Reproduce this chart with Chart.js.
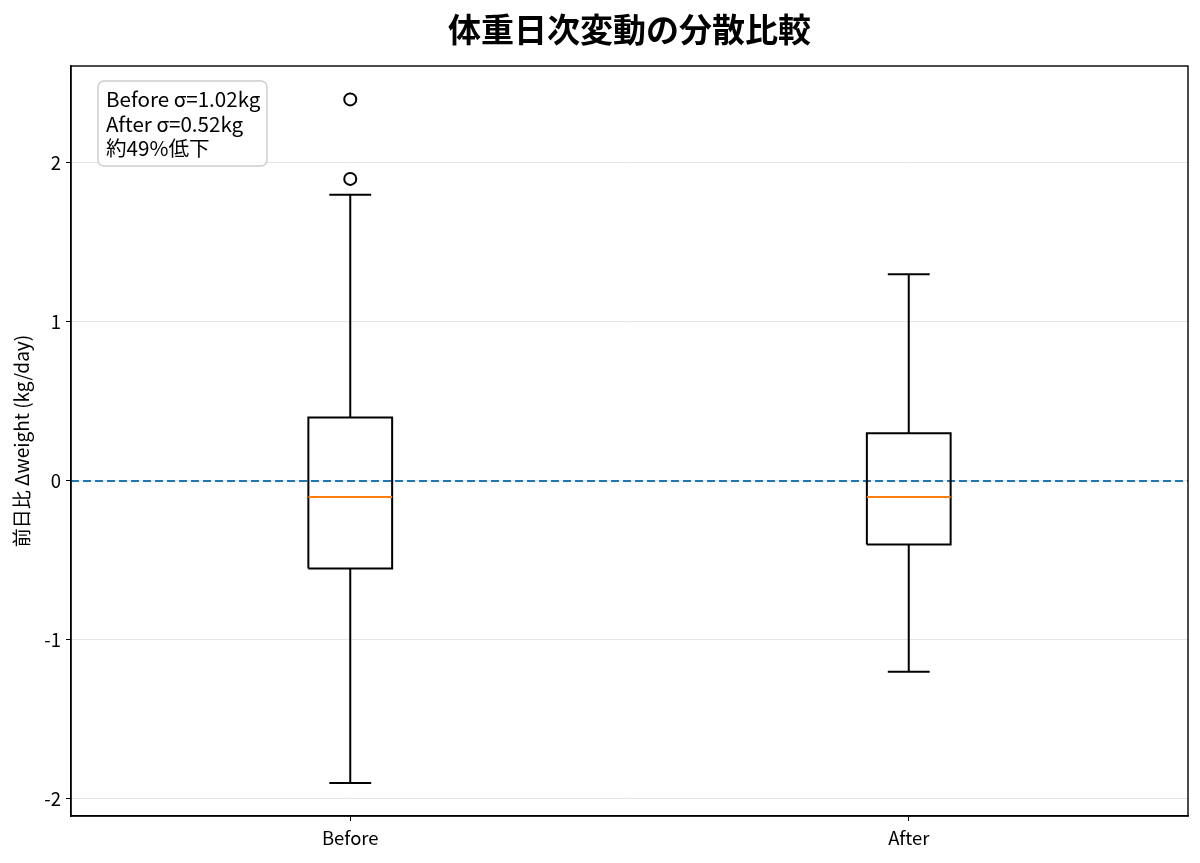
<!DOCTYPE html>
<html>
<head>
<meta charset="utf-8">
<script src="https://cdn.jsdelivr.net/npm/chart.js@4.4.1/dist/chart.umd.min.js"></script>
<style>
  body { margin: 0; background: #fff; }
  canvas { display: block; }
</style>
</head>
<body>
<canvas id="grafica" width="1200" height="863"></canvas>
<script>
const FONT = "'Noto Sans CJK JP', 'Noto Sans', sans-serif";

// datos
const grupos = ['Before', 'After'];
const posiciones = [1, 2];
const q1 = [-0.55, -0.40];
const medianas = [-0.10, -0.10];
const q3 = [0.40, 0.30];
const bigoteBajo = [-1.90, -1.20];
const bigoteAlto = [1.80, 1.30];
const atipicos = [[1.90, 2.40], []];
const yTicks = [-2, -1, 0, 1, 2];
const titulo = '体重日次変動の分散比較';
const ejeY = '前日比 Δweight (kg/day)';
const nota = ['Before σ=1.02kg', 'After σ=0.52kg', '約49%低下'];

const anchoCaja = 0.075;
const anchoTope = 0.0375;

// lineas de cada caja (null corta el trazo)
function trazoCaja(i) {
  const x = posiciones[i];
  return [
    {x: x - anchoCaja, y: q1[i]}, {x: x + anchoCaja, y: q1[i]},
    {x: x + anchoCaja, y: q3[i]}, {x: x - anchoCaja, y: q3[i]},
    {x: x - anchoCaja, y: q1[i]}, {x: x, y: null},
    {x: x, y: q1[i]}, {x: x, y: bigoteBajo[i]}, {x: x, y: null},
    {x: x, y: q3[i]}, {x: x, y: bigoteAlto[i]}, {x: x, y: null},
    {x: x - anchoTope, y: bigoteBajo[i]}, {x: x + anchoTope, y: bigoteBajo[i]}, {x: x, y: null},
    {x: x - anchoTope, y: bigoteAlto[i]}, {x: x + anchoTope, y: bigoteAlto[i]}
  ];
}

const datasets = [];
datasets.push({
  type: 'line',
  data: [{x: 0.5, y: 0}, {x: 2.5, y: 0}],
  borderColor: '#1f77b4',
  borderWidth: 2,
  borderDash: [8, 4],
  pointRadius: 0,
  order: 5
});
grupos.forEach((g, i) => {
  datasets.push({
    type: 'line',
    data: trazoCaja(i),
    borderColor: '#000',
    borderWidth: 2,
    pointRadius: 0,
    spanGaps: false,
    tension: 0,
    order: 2
  });
  datasets.push({
    type: 'line',
    data: [{x: posiciones[i] - anchoCaja, y: medianas[i]}, {x: posiciones[i] + anchoCaja, y: medianas[i]}],
    borderColor: '#ff7f0e',
    borderWidth: 2,
    pointRadius: 0,
    order: 1
  });
  datasets.push({
    type: 'scatter',
    data: atipicos[i].map(v => ({x: posiciones[i], y: v})),
    pointRadius: 6,
    pointBorderWidth: 2,
    pointBackgroundColor: '#fff',
    pointBorderColor: '#000',
    order: 0
  });
});

const extras = {
  id: 'extras',
  afterDraw(chart) {
    const ctx = chart.ctx;
    const a = chart.chartArea;
    ctx.save();
    // marco
    ctx.strokeStyle = '#000';
    ctx.lineWidth = 1.4;
    ctx.strokeRect(a.left, a.top, a.right - a.left, a.bottom - a.top);
    // titulo
    ctx.fillStyle = '#000';
    ctx.font = "bold 33px " + FONT;
    ctx.textAlign = 'center';
    ctx.textBaseline = 'middle';
    ctx.fillText(titulo, (a.left + a.right) / 2, 29);
    // nota
    const bx = a.left + 27, by = a.top + 15, bw = 169, bh = 85, r = 6;
    ctx.beginPath();
    ctx.moveTo(bx + r, by);
    ctx.arcTo(bx + bw, by, bx + bw, by + bh, r);
    ctx.arcTo(bx + bw, by + bh, bx, by + bh, r);
    ctx.arcTo(bx, by + bh, bx, by, r);
    ctx.arcTo(bx, by, bx + bw, by, r);
    ctx.closePath();
    ctx.fillStyle = 'rgba(255,255,255,0.8)';
    ctx.fill();
    ctx.strokeStyle = '#cccccc';
    ctx.lineWidth = 1.4;
    ctx.stroke();
    ctx.fillStyle = '#000';
    ctx.font = "20.6px " + FONT;
    ctx.textAlign = 'left';
    nota.forEach((t, k) => ctx.fillText(t, bx + 8, by + 18 + k * 24.8));
    ctx.restore();
  }
};

new Chart(document.getElementById('grafica'), {
  data: { datasets: datasets },
  options: {
    responsive: false,
    animation: false,
    devicePixelRatio: 1,
    layout: { padding: { left: 0, right: 12, top: 66, bottom: 0 } },
    plugins: { legend: { display: false }, tooltip: { enabled: false } },
    scales: {
      x: {
        type: 'linear',
        min: 0.5,
        max: 2.5,
        afterBuildTicks: ax => { ax.ticks = posiciones.map(v => ({value: v})); },
        afterFit: ax => { ax.height = 47; },
        grid: { drawOnChartArea: false, tickColor: '#000', tickLength: 5 },
        border: { color: '#000', width: 1.4 },
        ticks: {
          color: '#000',
          font: { family: FONT, size: 18.5 },
          padding: 6,
          callback: v => grupos[posiciones.indexOf(v)] || ''
        }
      },
      y: {
        type: 'linear',
        min: -2.107,
        max: 2.61,
        afterBuildTicks: ax => { ax.ticks = yTicks.map(v => ({value: v})); },
        afterFit: ax => { ax.width = 71; },
        grid: { color: '#e5e5e5', lineWidth: 1, tickColor: '#000', tickLength: 5 },
        border: { color: '#000', width: 1.4 },
        ticks: {
          color: '#000',
          font: { family: FONT, size: 18.5 },
          padding: 5,
          callback: v => String(v)
        },
        title: {
          display: true,
          text: ejeY,
          color: '#000',
          font: { family: FONT, size: 19 },
          padding: { top: 10, bottom: 0 }
        }
      }
    }
  },
  plugins: [extras]
});
</script>
</body>
</html>
